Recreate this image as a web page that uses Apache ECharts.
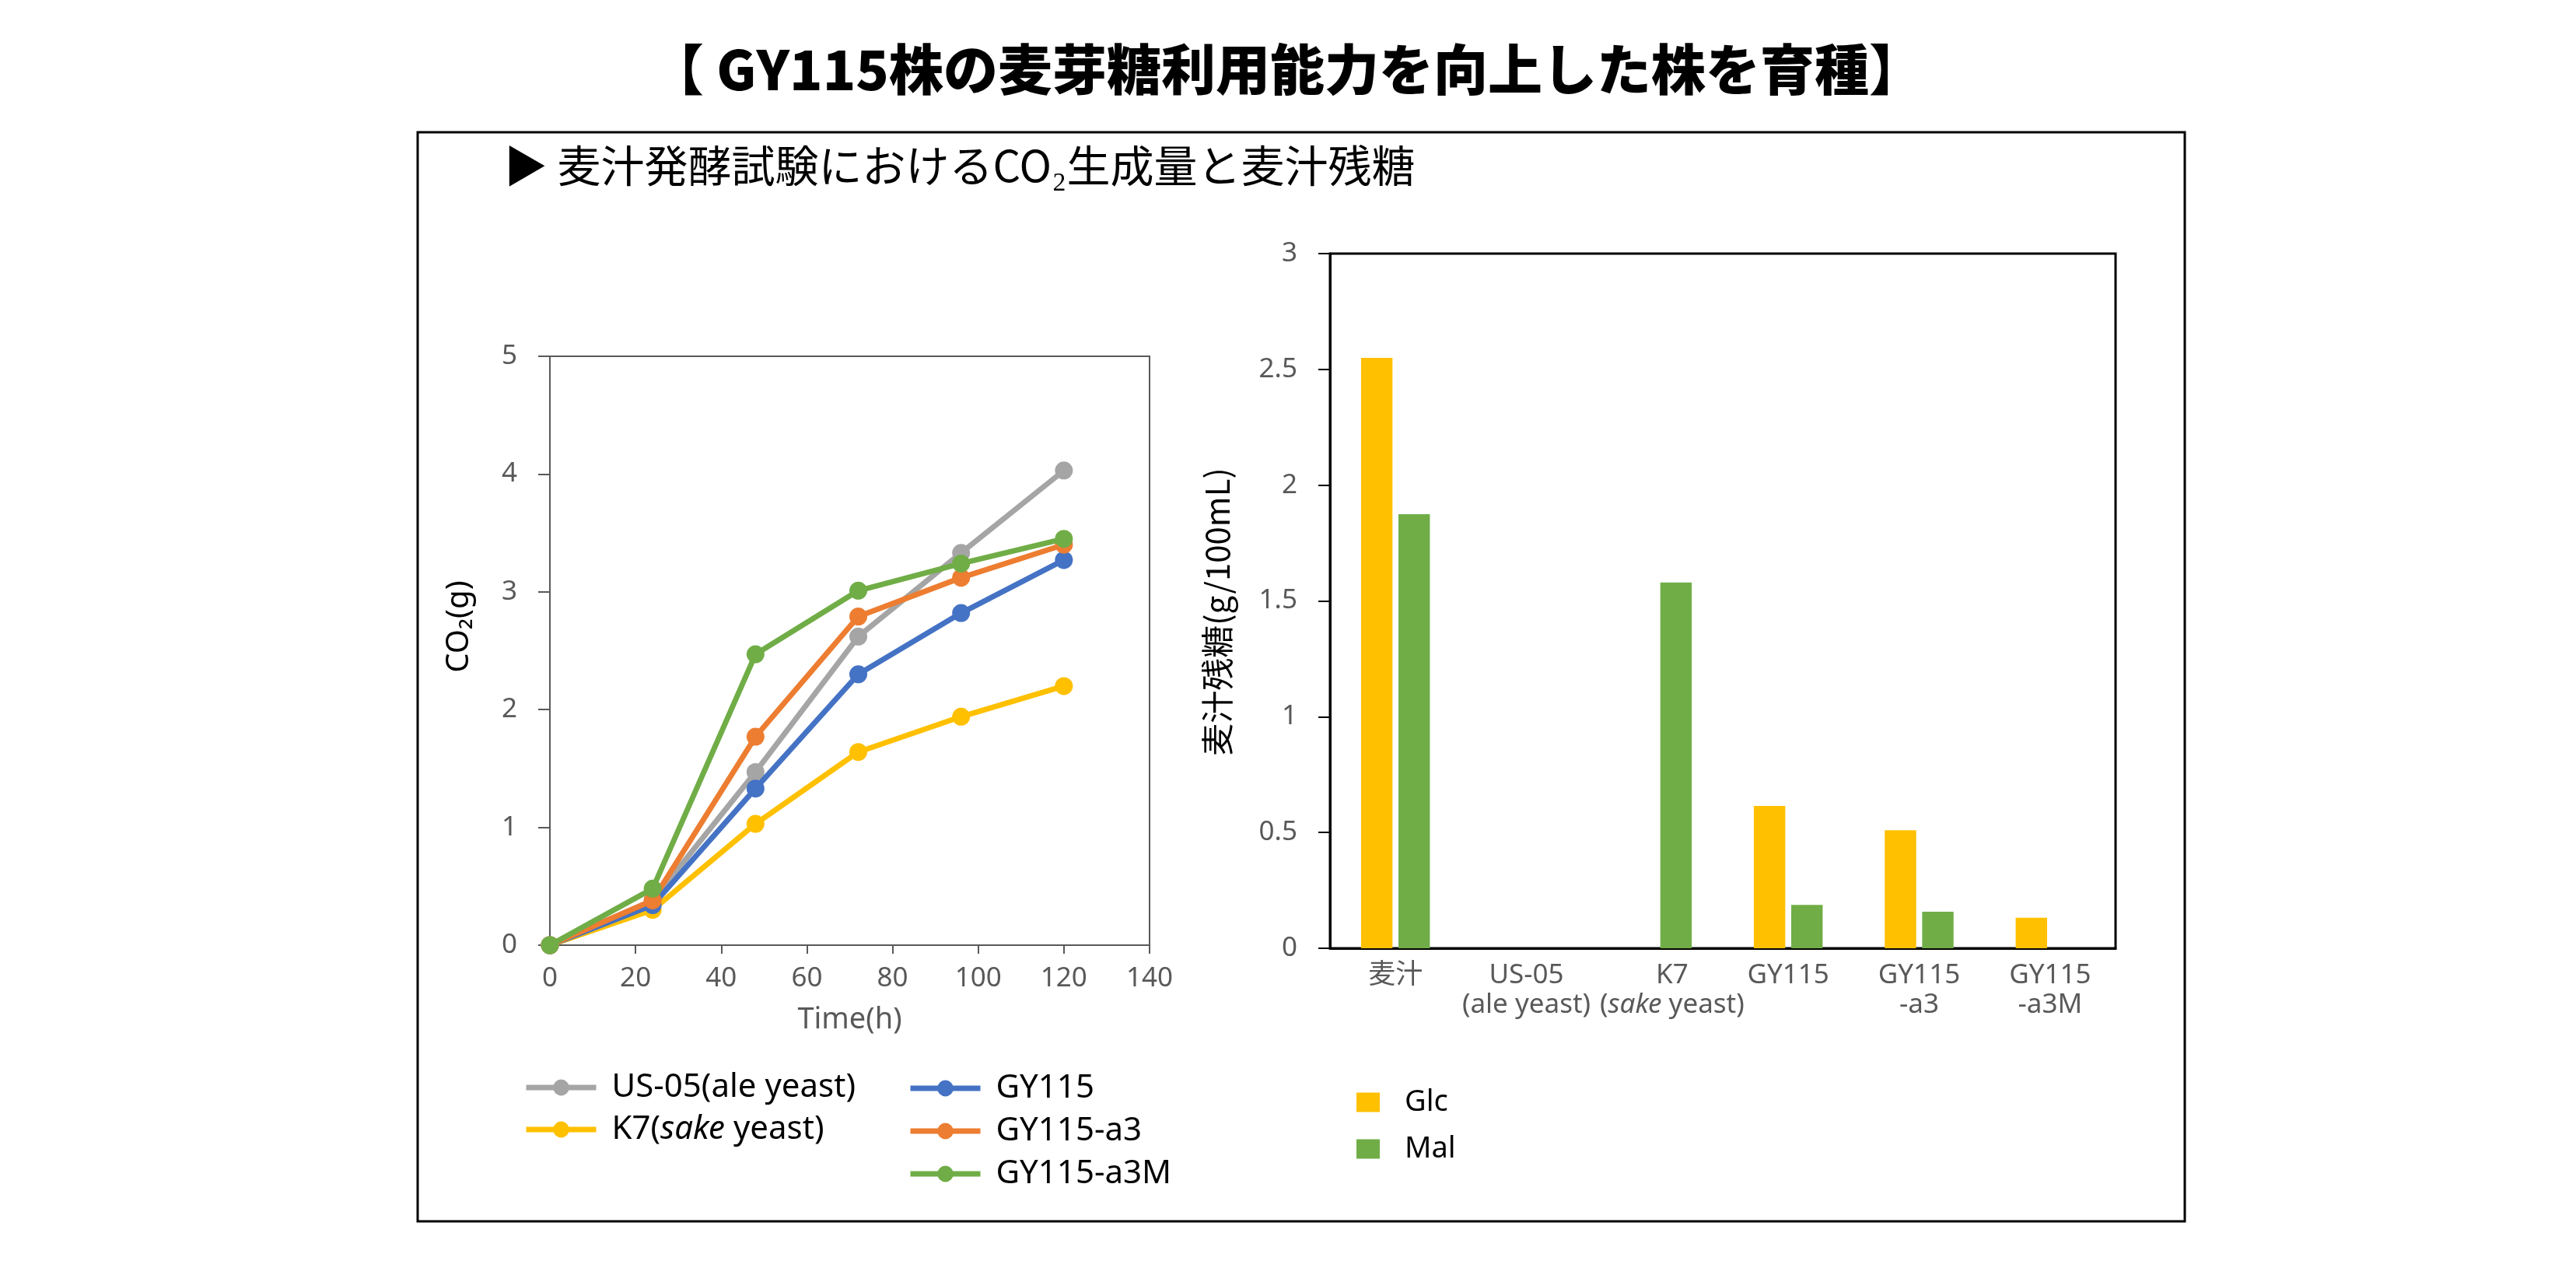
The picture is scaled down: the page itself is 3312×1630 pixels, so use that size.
<!DOCTYPE html>
<html><head><meta charset="utf-8">
<script src="https://cdn.jsdelivr.net/npm/echarts@6/dist/echarts.min.js"></script>
<style>html,body{margin:0;padding:0;background:#fff}#c{width:3312px;height:1630px}</style>
</head><body><div id="c"></div>
<script>
// ---- data ----
const timeHours = [0, 24, 48, 72, 96, 120];
const lineNames = ['US-05(ale yeast)', 'K7(sake yeast)', 'GY115', 'GY115-a3', 'GY115-a3M'];
const co2US05 = [0, 0.38, 1.47, 2.62, 3.33, 4.03];
const co2K7 = [0, 0.30, 1.03, 1.64, 1.94, 2.20];
const co2GY115 = [0, 0.34, 1.33, 2.30, 2.82, 3.27];
const co2GY115a3 = [0, 0.38, 1.77, 2.79, 3.12, 3.40];
const co2GY115a3M = [0, 0.48, 2.47, 3.01, 3.24, 3.45];
const lineColors = ['#A5A5A5', '#FFC000', '#4472C4', '#ED7D31', '#70AD47'];

const sugarCategories = ['麦汁', 'US-05\n(ale yeast)', 'K7\n(sake yeast)', 'GY115', 'GY115\n-a3', 'GY115\n-a3M'];
const sugarNames = ['Glc', 'Mal'];
const glcValues = [2.55, 0, 0, 0.615, 0.51, 0.132];
const malValues = [1.875, 0, 1.58, 0.187, 0.158, 0];
const barColors = ['#FFC000', '#70AD47'];

const titleText = '【 GY115株の麦芽糖利用能力を向上した株を育種】';
const subtitleText = '▶ 麦汁発酵試験におけるCO₂生成量と麦汁残糖';

// ---- chart ----
const LATIN = '"Noto Sans", "Noto Sans CJK JP", sans-serif';
const CJK = '"Noto Sans CJK JP", "Noto Sans", sans-serif';
const co2Series = [co2US05, co2K7, co2GY115, co2GY115a3, co2GY115a3M];

const chart = echarts.init(document.getElementById('c'));
const italicRich = { i: { fontStyle: 'italic', fontFamily: LATIN, fontSize: 42, color: '#000' } };

const option = {
  animation: false,
  backgroundColor: '#fff',
  graphic: [
    { type: 'rect', shape: { x: 537, y: 170, width: 2272, height: 1400 }, style: { fill: 'none', stroke: '#000', lineWidth: 3 }, silent: true },
    { type: 'text', x: 1654, y: 89, style: { text: titleText, font: '900 70px "Noto Sans CJK JP"', fill: '#000', textAlign: 'center', textVerticalAlign: 'middle' } },
    { type: 'text', x: 648, y: 213, style: { text: subtitleText, font: '400 56px "Noto Sans CJK JP"', fill: '#000', textAlign: 'left', textVerticalAlign: 'middle' } }
  ],
  legend: [
    {
      data: lineNames.slice(0, 2), orient: 'vertical', left: 668, top: 1372,
      itemWidth: 90, itemHeight: 26, itemGap: 12,
      lineStyle: { width: 7 },
      textStyle: { fontFamily: LATIN, fontSize: 42, lineHeight: 42, color: '#000', padding: [0, 0, 0, 15], rich: italicRich },
      formatter: n => n.replace('sake', '{i|sake}')
    },
    {
      data: lineNames.slice(2), orient: 'vertical', left: 1162, top: 1373,
      itemWidth: 90, itemHeight: 26, itemGap: 13,
      lineStyle: { width: 7 },
      textStyle: { fontFamily: LATIN, fontSize: 42, lineHeight: 42, color: '#000', padding: [0, 0, 0, 15] }
    },
    {
      data: sugarNames, orient: 'vertical', left: 1739, top: 1393,
      itemWidth: 30, itemHeight: 25, itemGap: 22, icon: 'rect',
      textStyle: { fontFamily: LATIN, fontSize: 38, lineHeight: 38, color: '#000', padding: [0, 0, 0, 27] }
    }
  ],
  grid: [
    { left: 707, top: 458, width: 771, height: 757, show: true, borderColor: '#595959', borderWidth: 2, containLabel: false },
    { left: 1710, top: 326, width: 1010, height: 893, show: true, borderColor: '#000', borderWidth: 3, containLabel: false }
  ],
  xAxis: [
    {
      gridIndex: 0, type: 'value', min: 0, max: 140, interval: 20,
      name: 'Time(h)', nameLocation: 'middle', nameGap: 77,
      nameTextStyle: { fontFamily: LATIN, fontSize: 38, color: '#595959' },
      axisLine: { show: true, lineStyle: { color: '#595959', width: 2 } },
      axisTick: { show: true, length: 11, lineStyle: { color: '#595959', width: 2 } },
      axisLabel: { fontFamily: LATIN, fontSize: 35, color: '#595959', margin: 26 },
      splitLine: { show: false }
    },
    {
      gridIndex: 1, type: 'category', data: sugarCategories.map((c, i) => i === 2 ? { value: c, textStyle: { padding: [0, 0, 0, 38] } } : c),
      axisLine: { show: true, lineStyle: { color: '#000', width: 3 } },
      axisTick: { show: false },
      axisLabel: {
        fontFamily: LATIN, fontSize: 35, lineHeight: 38, color: '#595959', margin: 16, interval: 0,
        formatter: v => v.replace('sake', '{i|sake}'),
        rich: { i: { fontStyle: 'italic', fontFamily: LATIN, fontSize: 35, lineHeight: 38, color: '#595959' } }
      },
      splitLine: { show: false }
    }
  ],
  yAxis: [
    {
      gridIndex: 0, type: 'value', min: 0, max: 5, interval: 1,
      name: 'CO₂(g)', nameLocation: 'middle', nameGap: 96, nameRotate: 90,
      nameTextStyle: { fontFamily: LATIN, fontSize: 40, color: '#000', padding: [0, 0, 0, 62] },
      axisLine: { show: true, lineStyle: { color: '#595959', width: 2 } },
      axisTick: { show: true, length: 15, lineStyle: { color: '#595959', width: 2 } },
      axisLabel: { fontFamily: LATIN, fontSize: 35, color: '#595959', margin: 42 },
      splitLine: { show: false }
    },
    {
      gridIndex: 1, type: 'value', min: 0, max: 3, interval: 0.5,
      name: '麦汁残糖(g/100mL)', nameLocation: 'middle', nameGap: 124, nameRotate: 90,
      nameTextStyle: { fontFamily: CJK, fontSize: 42, color: '#000', padding: [0, 28, 0, 0] },
      axisLine: { show: true, lineStyle: { color: '#000', width: 3 } },
      axisTick: { show: true, length: 15, lineStyle: { color: '#000', width: 2 } },
      axisLabel: { fontFamily: LATIN, fontSize: 35, color: '#595959', margin: 42 },
      splitLine: { show: false }
    }
  ],
  series: [
    ...lineNames.map((n, k) => ({
      name: n, type: 'line', xAxisIndex: 0, yAxisIndex: 0,
      data: timeHours.map((t, i) => [t, co2Series[k][i]]),
      symbol: 'circle', symbolSize: 23, showSymbol: true,
      lineStyle: { color: lineColors[k], width: 7 },
      itemStyle: { color: lineColors[k] },
      z: 2 + k
    })),
    {
      name: sugarNames[0], type: 'bar', xAxisIndex: 1, yAxisIndex: 1, data: glcValues,
      barWidth: '24%', barGap: '19%', itemStyle: { color: barColors[0] }
    },
    {
      name: sugarNames[1], type: 'bar', xAxisIndex: 1, yAxisIndex: 1, data: malValues,
      barWidth: '24%', barGap: '19%', itemStyle: { color: barColors[1] }
    }
  ]
};
chart.setOption(option);
</script></body></html>
